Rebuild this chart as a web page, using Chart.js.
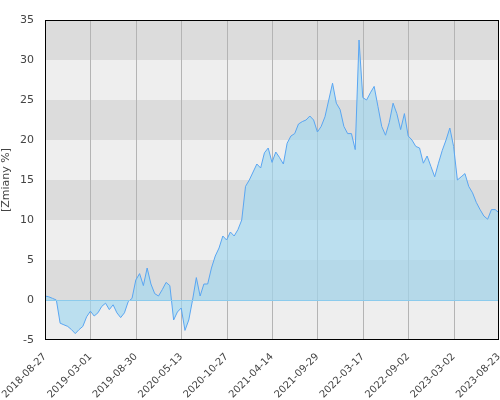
<!DOCTYPE html>
<html>
<head>
<meta charset="utf-8">
<script src="https://cdn.jsdelivr.net/npm/chart.js@4"></script>
<style>
  body { margin: 0; background: #fff; }
  #wrap { width: 500px; height: 400px; }
</style>
</head>
<body>
<div id="wrap"><canvas id="myChart"></canvas></div>
<script>
//tick labels, one every 12 points
const tickLabels = ['2018-08-27', '2019-03-01', '2019-08-30', '2020-05-13', '2020-10-27',
  '2021-04-14', '2021-09-29', '2022-03-17', '2022-09-02', '2023-03-02', '2023-08-23'];

//change in % (12 points per tick interval)
const values = [
  0.5, 0.4, 0.2, 0.0, -2.9, -3.1, -3.3, -3.7, -4.2, -3.7, -3.3, -2.1,
  -1.4, -2.0, -1.6, -0.8, -0.4, -1.2, -0.6, -1.6, -2.2, -1.6, -0.2, 0.2,
  2.5, 3.3, 1.8, 4.0, 2.0, 0.8, 0.5, 1.3, 2.2, 1.8, -2.5, -1.5,
  -1.0, -3.8, -2.5, 0.0, 2.8, 0.5, 2.0, 2.0, 4.0, 5.5, 6.5, 8.0,
  7.5, 8.5, 8.0, 8.8, 10.0, 14.2, 15.0, 16.0, 17.0, 16.5, 18.4, 19.0,
  17.2, 18.5, 17.8, 17.0, 19.6, 20.5, 20.8, 22.0, 22.3, 22.5, 23.0, 22.5,
  21.0, 21.7, 22.9, 25.0, 27.1, 24.6, 23.8, 21.7, 20.8, 20.8, 18.8, 32.5,
  25.3, 25.0, 25.9, 26.7, 24.2, 21.7, 20.6, 22.2, 24.6, 23.3, 21.3, 23.3,
  20.5, 20.0, 19.2, 19.0, 17.1, 18.0, 16.7, 15.4, 17.1, 18.7, 20.0, 21.5,
  19.2, 15.0, 15.4, 15.8, 14.2, 13.4, 12.2, 11.3, 10.5, 10.1, 11.3, 11.3,
  10.9
];

const step = 12;
const points = values.map((v, i) => ({x: i, y: v}));

//alternating horizontal bands behind the chart
const bands = {
  id: 'bands',
  beforeDatasetsDraw(chart) {
    const {ctx, chartArea: a, scales: {y}} = chart;
    ctx.save();
    for (let v = -5; v < 35; v += 5) {
      ctx.fillStyle = ((v / 5) % 2 === 0) ? '#dcdcdc' : '#eeeeee';
      if (v === -5) ctx.fillStyle = '#eeeeee';
      const top = y.getPixelForValue(v + 5), bot = y.getPixelForValue(v);
      ctx.fillRect(a.left, top, a.right - a.left, bot - top);
    }
    //vertical grid lines
    const x = chart.scales.x;
    ctx.strokeStyle = '#b4b4b4';
    ctx.lineWidth = 1;
    for (let i = step; i < values.length - 1; i += step) {
      const px = Math.round(x.getPixelForValue(i)) + 0.5;
      ctx.beginPath(); ctx.moveTo(px, a.top); ctx.lineTo(px, a.bottom); ctx.stroke();
    }
    ctx.restore();
  },
  afterDatasetsDraw(chart) {
    const {ctx, chartArea: a, scales: {y}} = chart;
    ctx.save();
    ctx.strokeStyle = '#8ccbec';
    const py = Math.round(y.getPixelForValue(0)) + 0.5;
    ctx.beginPath(); ctx.moveTo(a.left, py); ctx.lineTo(a.right, py); ctx.stroke();
    ctx.strokeStyle = '#000';
    ctx.strokeRect(a.left + 0.5, a.top + 0.5, a.right - a.left - 1, a.bottom - a.top - 1);
    ctx.restore();
  }
};

const ctx = document.getElementById('myChart').getContext('2d');
const myChart = new Chart(ctx, {
  type: 'line',
  data: {
    datasets: [{
      data: points,
      borderColor: '#5aa6f2',
      borderWidth: 1,
      backgroundColor: 'rgba(160, 215, 240, 0.65)',
      fill: 'origin',
      pointRadius: 0,
      tension: 0
    }]
  },
  plugins: [bands],
  options: {
    animation: false,
    responsive: true,
    maintainAspectRatio: false,
    layout: { padding: {top: 20, right: 1, left: 0, bottom: 0} },
    plugins: { legend: { display: false }, tooltip: { enabled: false } },
    scales: {
      x: {
        type: 'linear',
        min: 0,
        max: values.length - 1,
        grid: { display: false },
        border: { display: false },
        afterBuildTicks(axis) {
          axis.ticks = tickLabels.map((_, i) => ({value: i * step}));
        },
        afterFit(axis) {
          axis.height = 60;
          axis.paddingLeft = 0;
          axis.paddingRight = 0;
        },
        ticks: {
          autoSkip: false,
          maxRotation: 45,
          minRotation: 45,
          color: '#444',
          font: { family: 'DejaVu Sans', size: 10 },
          callback: (v) => tickLabels[v / step]
        }
      },
      y: {
        min: -5,
        max: 35,
        grid: { display: false },
        border: { display: false },
        afterFit(axis) {
          axis.width = 45;
          axis.paddingTop = 0;
          axis.paddingBottom = 0;
        },
        title: { display: true, text: '[Zmiany %]', color: '#444', font: { family: 'DejaVu Sans', size: 11 }, padding: 0 },
        ticks: { stepSize: 5, color: '#444', font: { family: 'DejaVu Sans', size: 11 } }
      }
    }
  }
});
</script>
</body>
</html>
